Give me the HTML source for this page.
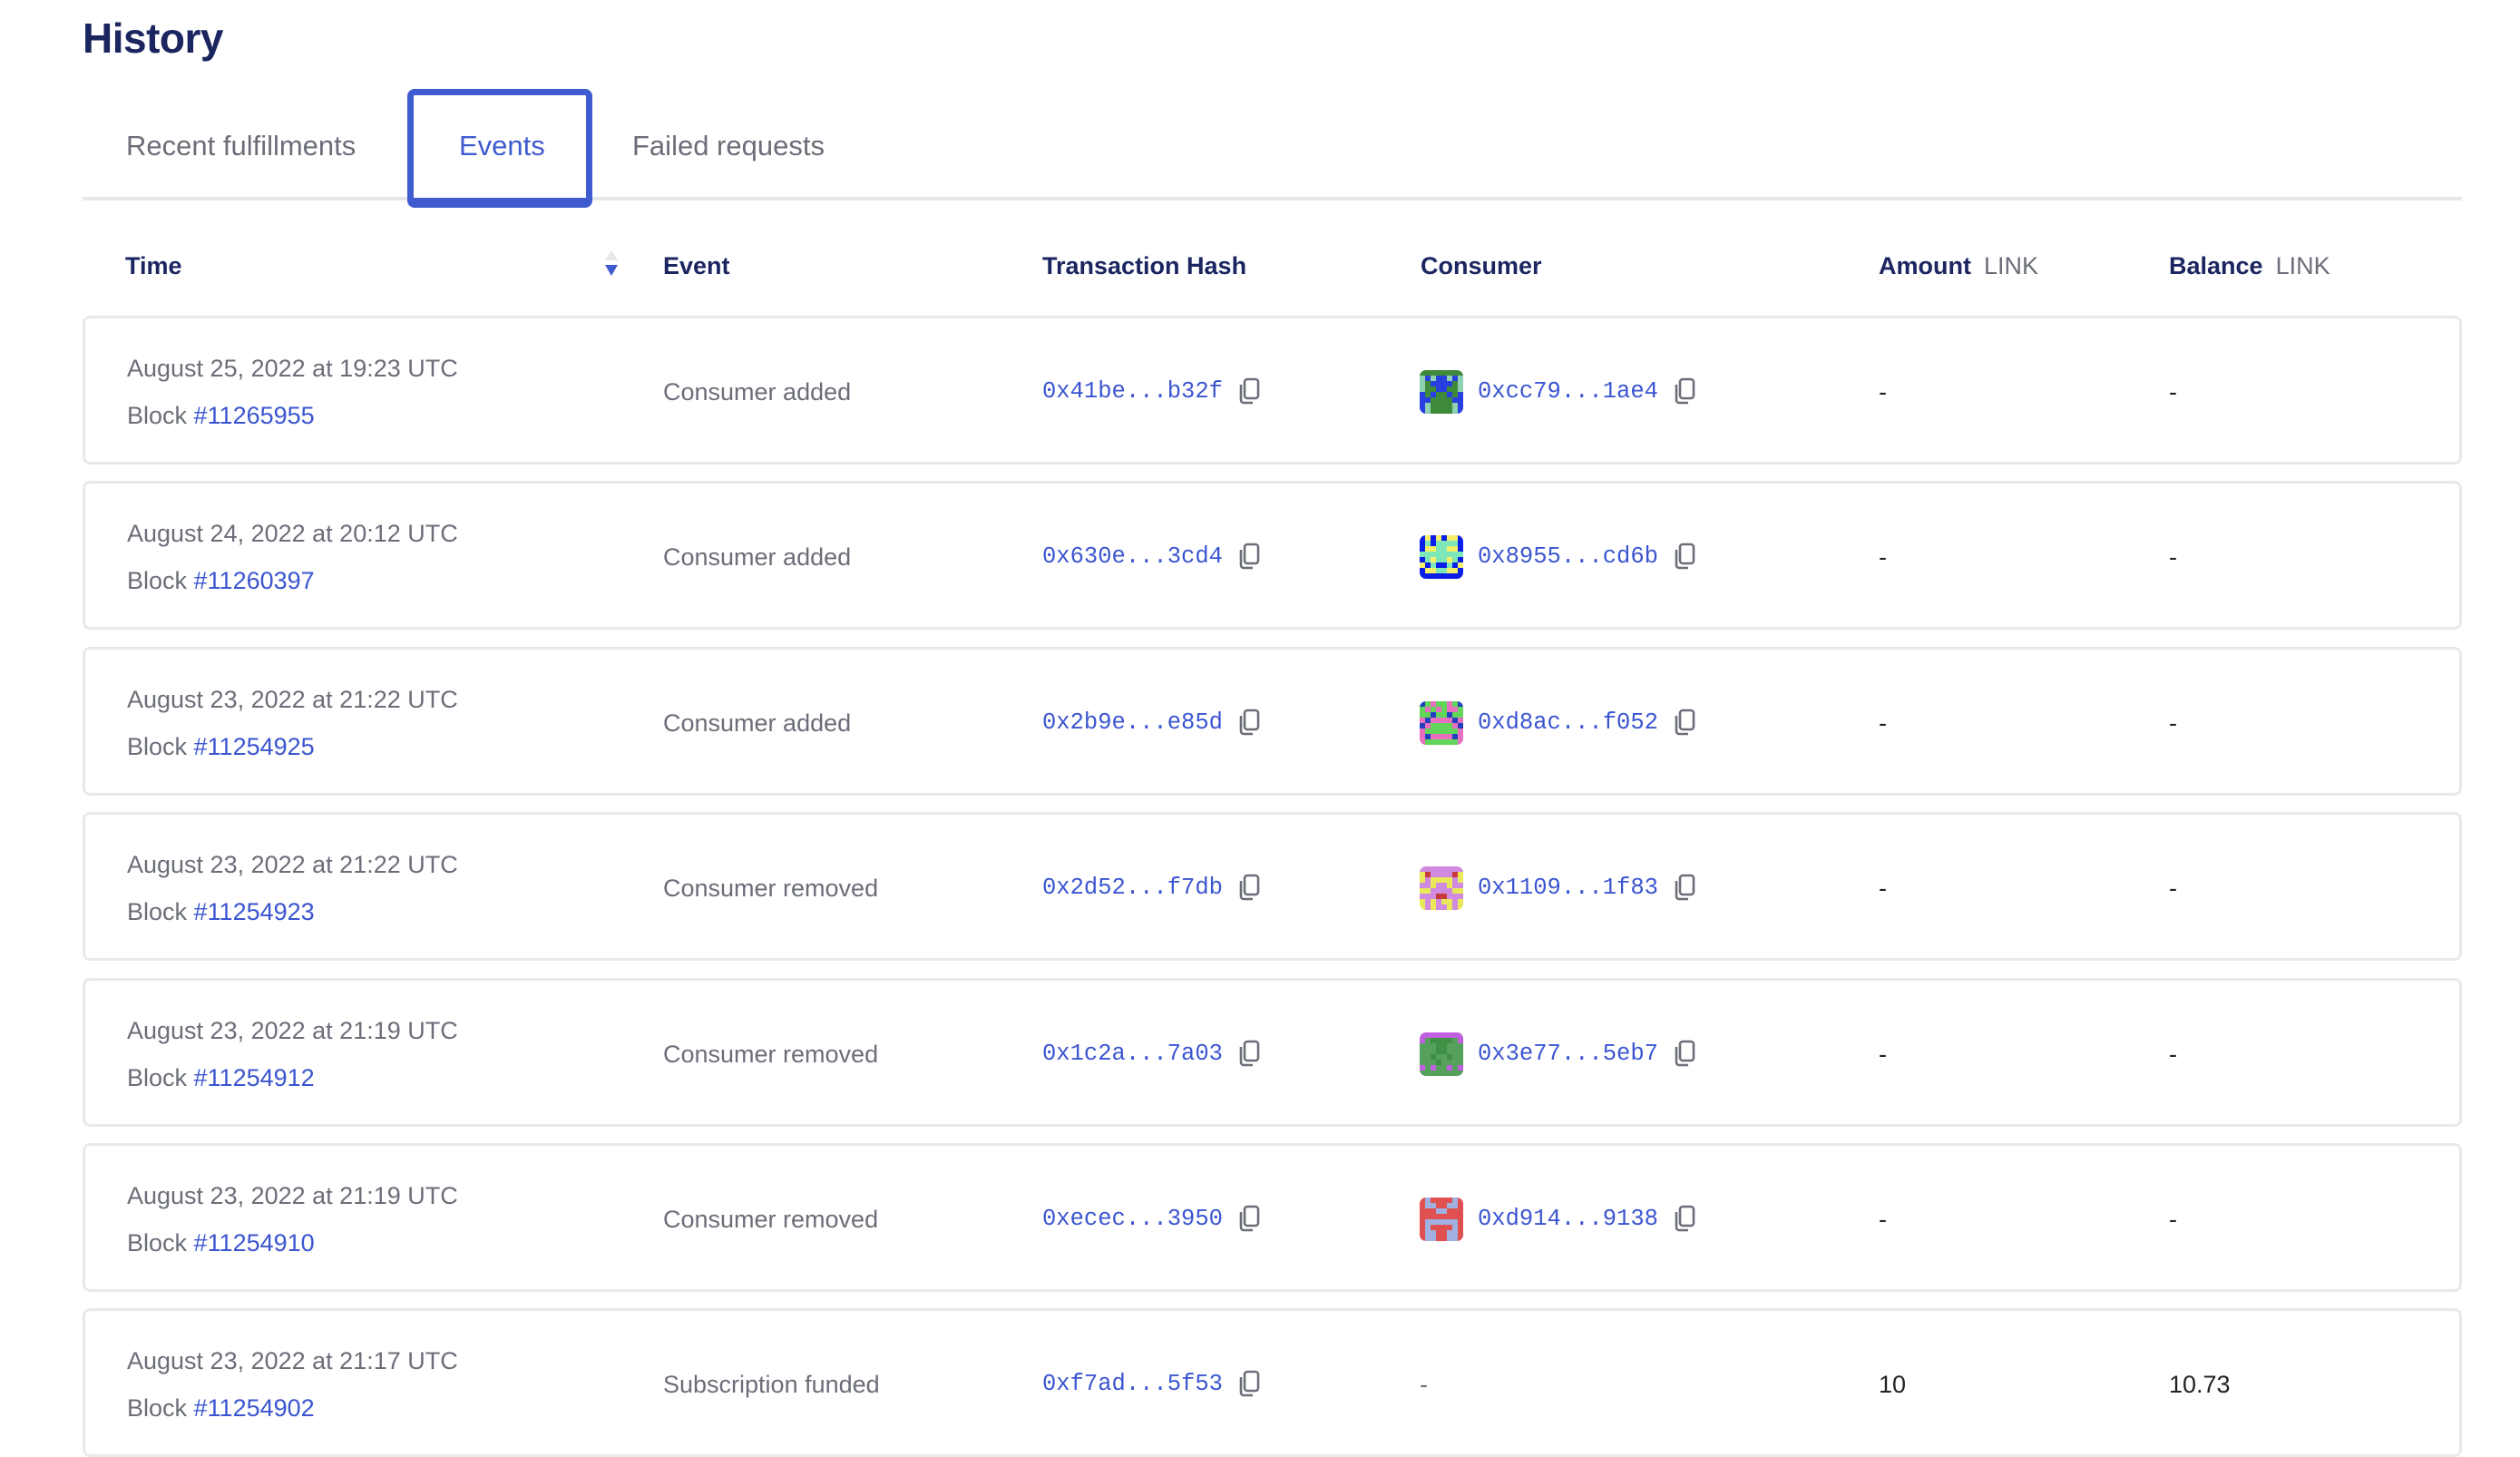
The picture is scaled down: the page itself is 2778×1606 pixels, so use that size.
<!DOCTYPE html>
<html><head><meta charset="utf-8">
<style>
*{margin:0;padding:0;box-sizing:border-box}
body{width:2778px;height:1600px;overflow:hidden;background:#fff;font-family:"Liberation Sans",sans-serif;position:relative}
.a{position:absolute;white-space:nowrap}
h1{position:absolute;left:91px;top:15px;font-size:46px;font-weight:bold;color:#1b2560;letter-spacing:-0.5px}
.tab{font-size:31px;color:#6b6e78;top:143px}
.sep{position:absolute;left:91px;top:217px;width:2623px;height:4px;background:#e6e7ea}
.tabbox{position:absolute;left:449px;top:98px;width:204px;height:131px;border:7px solid #3f5bd0;border-bottom-width:11px;border-radius:8px;background:#fff}
.hd{font-size:27px;font-weight:bold;color:#1b2560;top:278px}
.hd span{font-weight:normal;color:#6b6e78;margin-left:14px}
.row{position:absolute;left:91px;width:2623px;height:164px;border:3px solid #e8e9eb;border-radius:8px;background:#fff}
.t{font-size:27px;color:#6b6e78}
.lk{color:#3b55d0}
.mono{font-family:"Liberation Mono",monospace;font-size:25.5px;color:#3b55d0}
.dash{font-size:27px;color:#222}
</style></head><body>
<h1>History</h1>
<div class="sep"></div>
<div class="a tab" style="left:139px">Recent fulfillments</div>
<div class="tabbox"></div>
<div class="a tab" style="left:506px;color:#3f5bd0">Events</div>
<div class="a tab" style="left:697px">Failed requests</div>

<div class="a hd" style="left:138px">Time</div>
<svg class="a" style="left:666px;top:276px" width="16" height="30"><polygon points="8,0 15,11 1,11" fill="#e6e7ea"/><polygon points="1,16 15,16 8,28" fill="#3f5bd0"/></svg>
<div class="a hd" style="left:731px">Event</div>
<div class="a hd" style="left:1149px">Transaction Hash</div>
<div class="a hd" style="left:1566px">Consumer</div>
<div class="a hd" style="left:2071px">Amount<span>LINK</span></div>
<div class="a hd" style="left:2391px">Balance<span>LINK</span></div>

<div id="rows"></div>
<script>
var data=[
["August 25, 2022 at 19:23 UTC","11265955","Consumer added","0x41be...b32f","0xcc79...1ae4","-","-",0],
["August 24, 2022 at 20:12 UTC","11260397","Consumer added","0x630e...3cd4","0x8955...cd6b","-","-",1],
["August 23, 2022 at 21:22 UTC","11254925","Consumer added","0x2b9e...e85d","0xd8ac...f052","-","-",2],
["August 23, 2022 at 21:22 UTC","11254923","Consumer removed","0x2d52...f7db","0x1109...1f83","-","-",3],
["August 23, 2022 at 21:19 UTC","11254912","Consumer removed","0x1c2a...7a03","0x3e77...5eb7","-","-",4],
["August 23, 2022 at 21:19 UTC","11254910","Consumer removed","0xecec...3950","0xd914...9138","-","-",5],
["August 23, 2022 at 21:17 UTC","11254902","Subscription funded","0xf7ad...5f53",null,"10","10.73",6]];
var icons=[
{c:{a:"#3d8a3a",b:"#2a3fe0",c:"#8fd0b0"},p:["aaaaaaaa","cbcbbcbc","cabbbbac","caabbaac","babaabab","bbaaaabb","bcaaaacb","bcaaaacb"]},
{c:{a:"#0a1ee8",b:"#f5ef6a",c:"#7ee8b8"},p:["abababba","acacccca","abbccbba","cccccccc","acbccbca","bacaacab","abbccbba","aaaaaaaa"]},
{c:{a:"#62d65a",b:"#e86fc0",c:"#2040c0"},p:["cabaabac","abababba","aacaacaa","bcbbbbcb","cbaaaabc","baaaaaab","bcbbbbcb","baaaaaab"]},
{c:{a:"#d08ae0",b:"#e8e85a",c:"#c83a3a"},p:["aaaaaaaa","bcaaaacb","babbbbab","aabaabaa","bbaaaabb","aaaccaaa","bababbab","babaabab"]},
{c:{a:"#55a05a",b:"#c060e0",c:"#3f8f45"},p:["bbbbbbbb","baccccab","aaaccaaa","aaaccaaa","aacaacaa","aaacaaaa","babaabab","aaaaaaaa"]},
{c:{a:"#e05050",b:"#a0b0e0",c:"#c86a8a"},p:["abaaaaba","abbaabba","aaabbaaa","aaaaaaaa","abbbbbba","abaaaaba","abbaabba","abbaabba"]}];
function icon(k,x,y){var s='<svg class="a" style="left:'+x+'px;top:'+y+'px" width="48" height="48"><defs><clipPath id="cl'+k+'"><rect width="48" height="48" rx="7"/></clipPath></defs><g clip-path="url(#cl'+k+')">';
var ic=icons[k];for(var r=0;r<8;r++)for(var c=0;c<8;c++){s+='<rect x="'+c*6+'" y="'+r*6+'" width="6" height="6" fill="'+ic.c[ic.p[r][c]]+'"/>';}
return s+'</g></svg>';}
function cp(x,y){return '<svg class="a" style="left:'+x+'px;top:'+y+'px" width="26" height="30" viewBox="0 0 26 30"><rect x="8" y="2" width="15" height="21" rx="3" fill="none" stroke="#6b6e78" stroke-width="2.6"/><path d="M4 8 V25 a3 3 0 0 0 3 3 H17" fill="none" stroke="#6b6e78" stroke-width="2.6"/></svg>';}
var h='';
data.forEach(function(d,i){var top=Math.round(348+i*182.4);
h+='<div class="row" style="top:'+top+'px"></div>';
h+='<div class="a t" style="left:140px;top:'+(top+43)+'px">'+d[0]+'</div>';
h+='<div class="a t" style="left:140px;top:'+(top+95)+'px">Block <span class="lk">#'+d[1]+'</span></div>';
h+='<div class="a t" style="left:731px;top:'+(top+69)+'px">'+d[2]+'</div>';
var hw=d[3].length*15.3;
h+='<div class="a mono" style="left:1149px;top:'+(top+69)+'px">'+d[3]+'</div>';
h+=cp(Math.round(1149+hw+16),top+68);
if(d[4]){h+=icon(d[7],1565,top+60);
h+='<div class="a mono" style="left:1629px;top:'+(top+69)+'px">'+d[4]+'</div>';
h+=cp(Math.round(1629+d[4].length*15.3+16),top+68);}
else h+='<div class="a t" style="left:1565px;top:'+(top+69)+'px">-</div>';
h+='<div class="a dash" style="left:2071px;top:'+(top+69)+'px">'+d[5]+'</div>';
h+='<div class="a dash" style="left:2391px;top:'+(top+69)+'px">'+d[6]+'</div>';
});
document.getElementById('rows').innerHTML=h;
</script>
</body></html>
